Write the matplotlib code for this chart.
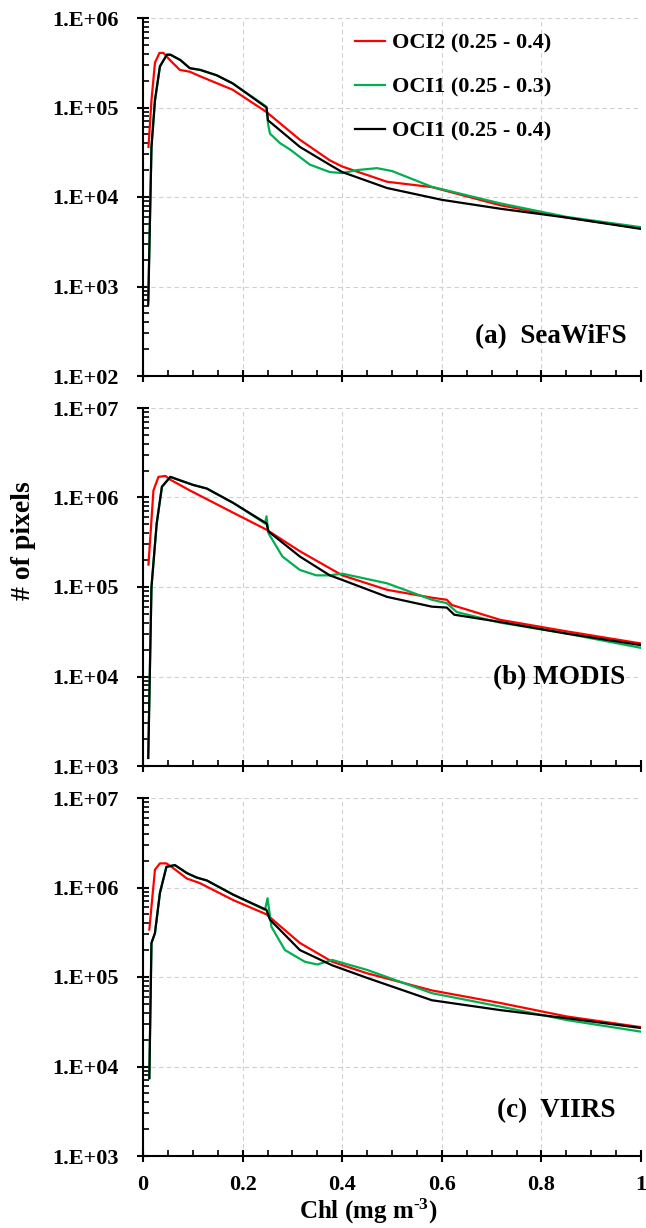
import math
import matplotlib
matplotlib.use("Agg")
import matplotlib.pyplot as plt
from matplotlib.ticker import LogLocator, MultipleLocator, FixedLocator, NullFormatter

plt.rcParams['font.family'] = ['Liberation Serif', 'DejaVu Serif']
plt.rcParams['font.weight'] = 'bold'
plt.rcParams['mathtext.fontset'] = 'custom'
plt.rcParams['mathtext.rm'] = 'Liberation Serif:bold'
plt.rcParams['mathtext.default'] = 'rm'

# ---------------- data (Chl in mg m^-3, counts of pixels) ----------------
labels = ["OCI2 (0.25 - 0.4)", "OCI1 (0.25 - 0.3)", "OCI1 (0.25 - 0.4)"]
colors = ["#ff0000", "#00b050", "#000000"]

# (a) SeaWiFS
red_a_x = [0.011, 0.017, 0.024, 0.033, 0.041, 0.054, 0.074, 0.094, 0.114, 0.18, 0.248, 0.315, 0.375, 0.40, 0.49, 0.58, 0.717, 0.85, 1.0]
red_a_y = [36300, 120000, 316000, 407000, 407000, 339000, 263000, 251000, 224000, 158000, 89000, 43600, 25700, 21900, 14800, 12900, 8100, 5900, 4470]
grn_a_x = [0.0105, 0.017, 0.024, 0.034, 0.048, 0.055, 0.075, 0.094, 0.115, 0.148, 0.18, 0.248, 0.251, 0.255, 0.275, 0.295, 0.335, 0.375, 0.40, 0.43, 0.47, 0.50, 0.58, 0.717, 0.85, 1.0]
grn_a_y = [700, 36000, 120000, 288000, 389000, 389000, 339000, 275000, 263000, 229000, 186000, 102000, 66000, 51000, 40000, 34000, 23000, 19000, 18500, 20000, 21000, 19500, 13000, 8500, 6000, 4600]
blk_a_x = [0.0105, 0.017, 0.024, 0.034, 0.048, 0.055, 0.075, 0.094, 0.115, 0.148, 0.18, 0.248, 0.251, 0.315, 0.375, 0.40, 0.49, 0.60, 0.717, 0.85, 1.0]
blk_a_y = [630, 36000, 120000, 288000, 389000, 389000, 339000, 275000, 263000, 229000, 186000, 100000, 72000, 36300, 22900, 19000, 12600, 9300, 7400, 5900, 4400]

# (b) MODIS
red_b_x = [0.011, 0.021, 0.031, 0.045, 0.055, 0.094, 0.181, 0.248, 0.315, 0.375, 0.40, 0.49, 0.58, 0.61, 0.62, 0.717, 0.85, 1.0]
red_b_y = [178000, 1200000, 1700000, 1740000, 1580000, 1200000, 676000, 437000, 251000, 162000, 135000, 93000, 76000, 72000, 63000, 43000, 32000, 23400]
grn_b_x = [0.0105, 0.017, 0.0275, 0.038, 0.055, 0.075, 0.101, 0.128, 0.181, 0.245, 0.248, 0.252, 0.28, 0.315, 0.348, 0.375, 0.40, 0.49, 0.58, 0.61, 0.63, 0.717, 0.85, 1.0]
grn_b_y = [1230, 100000, 513000, 1320000, 1700000, 1550000, 1380000, 1260000, 871000, 513000, 617000, 398000, 219000, 155000, 135000, 135000, 141000, 110000, 72000, 66000, 52500, 40000, 30200, 20900]
blk_b_x = [0.0105, 0.017, 0.0275, 0.038, 0.055, 0.075, 0.101, 0.128, 0.181, 0.248, 0.252, 0.315, 0.375, 0.40, 0.49, 0.58, 0.61, 0.625, 0.717, 0.85, 1.0]
blk_b_y = [1230, 100000, 513000, 1320000, 1700000, 1550000, 1380000, 1260000, 871000, 513000, 417000, 219000, 135000, 120000, 77600, 60300, 58900, 49000, 40700, 30200, 22400]

# (c) VIIRS
red_c_x = [0.0127, 0.024, 0.034, 0.047, 0.06, 0.088, 0.114, 0.181, 0.248, 0.315, 0.38, 0.45, 0.58, 0.717, 0.85, 1.0]
red_c_y = [339000, 1580000, 1860000, 1860000, 1660000, 1260000, 1120000, 724000, 501000, 240000, 148000, 110000, 70800, 51300, 36300, 27500]
grn_c_x = [0.0127, 0.017, 0.024, 0.034, 0.047, 0.064, 0.088, 0.108, 0.128, 0.181, 0.245, 0.25, 0.258, 0.285, 0.325, 0.35, 0.38, 0.45, 0.58, 0.717, 0.85, 1.0]
grn_c_y = [7400, 240000, 309000, 871000, 1700000, 1780000, 1450000, 1290000, 1200000, 832000, 562000, 759000, 363000, 200000, 148000, 138000, 155000, 120000, 66000, 46800, 33100, 24500]
blk_c_x = [0.0127, 0.017, 0.024, 0.034, 0.047, 0.064, 0.088, 0.108, 0.128, 0.181, 0.248, 0.255, 0.315, 0.38, 0.45, 0.58, 0.717, 0.85, 1.0]
blk_c_y = [7400, 240000, 309000, 871000, 1700000, 1780000, 1450000, 1290000, 1200000, 832000, 562000, 437000, 200000, 135000, 97700, 55000, 42700, 34700, 26900]

panel_titles = ["(a)  SeaWiFS", "(b) MODIS", "(c)  VIIRS"]
y_limits = [(1e2, 1e6), (1e3, 1e7), (1e3, 1e7)]
x_ticks = [0, 0.2, 0.4, 0.6, 0.8, 1.0]
x_ticklabels = ["0", "0.2", "0.4", "0.6", "0.8", "1"]

series = [
    [(red_a_x, red_a_y), (grn_a_x, grn_a_y), (blk_a_x, blk_a_y)],
    [(red_b_x, red_b_y), (grn_b_x, grn_b_y), (blk_b_x, blk_b_y)],
    [(red_c_x, red_c_y), (grn_c_x, grn_c_y), (blk_c_x, blk_c_y)],
]

# ---------------- figure ----------------
W, H = 646, 1228
fig = plt.figure(figsize=(W / 100, H / 100), dpi=100)

left = 143 / W
width = 498 / W
height = 358 / H
bottoms_px = [376, 766, 1156]
title_pos = [(0.972, 0.109), (0.968, 0.246), (0.948, 0.128)]

axes = []
for i in range(3):
    ax = fig.add_axes([left, 1 - bottoms_px[i] / H, width, height])
    axes.append(ax)
    ax.set_yscale('log')
    ax.set_xlim(0, 1)
    ax.set_ylim(*y_limits[i])
    for (xs, ys), c, lab in zip(series[i], colors, labels):
        ax.plot(xs, ys, color=c, lw=1.6, label=lab, solid_joinstyle='round')

    ax.grid(True, which='major', color='#d0d0d0', linestyle=(0, (4, 3)), linewidth=0.8)
    ax.set_axisbelow(True)
    for s in ['top', 'right']:
        ax.spines[s].set_visible(False)
    for s in ['left', 'bottom']:
        ax.spines[s].set_linewidth(1.5)

    ax.xaxis.set_major_locator(FixedLocator(x_ticks))
    ax.xaxis.set_minor_locator(MultipleLocator(0.05))
    lo, hi = y_limits[i]
    ax.yaxis.set_major_locator(LogLocator(base=10, numticks=20))
    ax.yaxis.set_minor_locator(LogLocator(base=10, subs=range(2, 10), numticks=20))
    ax.yaxis.set_minor_formatter(NullFormatter())
    ytk = [t for t in ax.get_yticks() if lo <= t <= hi]
    ax.set_yticks(ytk)
    ax.set_yticklabels(["1.E+%02d" % round(math.log10(t)) for t in ytk])

    ax.tick_params(axis='both', which='major', direction='inout', length=9, width=1.5,
                   labelsize=16)
    ax.tick_params(axis='both', which='minor', direction='in', length=4.5, width=1.2)
    ax.tick_params(axis='y', which='major', pad=13)
    if i < 2:
        ax.set_xticklabels([])
    else:
        ax.set_xticklabels(x_ticklabels)
        ax.tick_params(axis='x', which='major', pad=9)
    for lab in ax.get_xticklabels() + ax.get_yticklabels():
        lab.set_fontweight('bold')

    ax.text(title_pos[i][0], title_pos[i][1], panel_titles[i], transform=ax.transAxes,
            ha='right', va='center', fontsize=19.5, fontweight='bold')

leg = axes[0].legend(loc='upper left', bbox_to_anchor=((355 - 143) / 498, (376 - 33) / 358),
                     frameon=False, fontsize=16, handlelength=1.35, handletextpad=0.3,
                     labelspacing=1.05, borderaxespad=0, borderpad=0)
for t in leg.get_texts():
    t.set_fontweight('bold')

fig.text(24 / W, 1 - 541 / H, "# of pixels", rotation=90, ha='center', va='center',
         fontsize=20, fontweight='bold')
fig.text(368 / W, 1 - 1211 / H, r"Chl (mg m$^{\text{-3}}$)", ha='center', va='center',
         fontsize=18, fontweight='bold')

fig.savefig("out.png", dpi=100)
